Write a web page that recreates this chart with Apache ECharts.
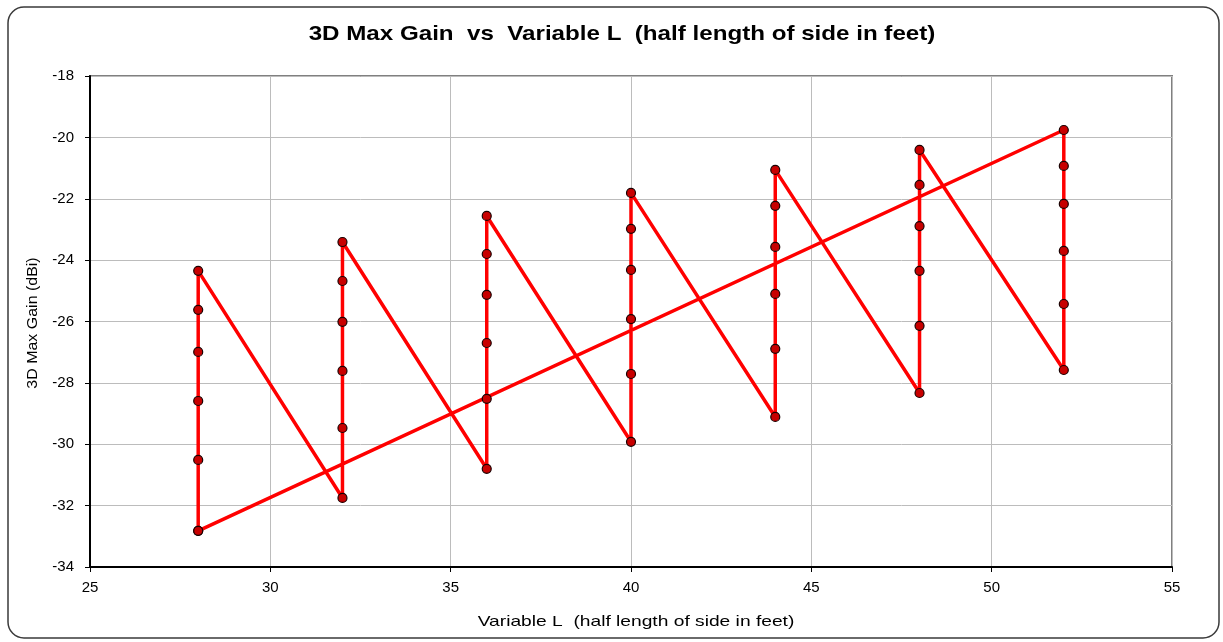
<!DOCTYPE html>
<html>
<head>
<meta charset="utf-8">
<script src="https://cdn.jsdelivr.net/npm/echarts@6/dist/echarts.min.js"></script>
<style>
  html, body { margin: 0; padding: 0; background: #fff; }
  #chart { width: 1223px; height: 642px; }
</style>
</head>
<body>
<div id="chart"></div>
<script>
// Half-side length L (feet) swept in steps of 4
var lengths = [28, 32, 36, 40, 44, 48, 52];

// 3D max gain (dBi) for each L, lowest to highest
var gain28 = [-32.82, -30.51, -28.59, -26.99, -25.62, -24.35];
var gain32 = [-31.75, -29.47, -27.61, -26.01, -24.68, -23.41];
var gain36 = [-30.80, -28.52, -26.70, -25.13, -23.80, -22.56];
var gain40 = [-29.92, -27.71, -25.92, -24.32, -22.98, -21.81];
var gain44 = [-29.11, -26.89, -25.10, -23.57, -22.23, -21.06];
var gain48 = [-28.33, -26.14, -24.35, -22.89, -21.55, -20.41];
var gain52 = [-27.58, -25.43, -23.70, -22.17, -20.93, -19.76];

var gains = [gain28, gain32, gain36, gain40, gain44, gain48, gain52];

// Axis ranges and tick steps
var xMin = 25, xMax = 55, xStep = 5;
var yMin = -34, yMax = -18, yStep = 2;

// Text
var titleText = '3D Max Gain  vs  Variable L  (half length of side in feet)';
var xName = 'Variable L  (half length of side in feet)';
var yName = '3D Max Gain (dBi)';

// Sweep order: each column bottom-to-top, then back to the first point
var points = [];
lengths.forEach(function (L, i) {
  gains[i].forEach(function (g) { points.push([L, g]); });
});
points.push(points[0].slice());

var font = 'Arial, "Liberation Sans", sans-serif';

var chart = echarts.init(document.getElementById('chart'), null, { renderer: 'canvas' });
chart.setOption({
  backgroundColor: '#ffffff',
  animation: false,
  graphic: [
    {
      type: 'rect',
      shape: { x: 8, y: 7, width: 1211, height: 631, r: 16 },
      style: { fill: 'none', stroke: '#3a3a3a', lineWidth: 1.5 },
      z: -1
    },
    {
      // chart title, slightly widened
      type: 'text',
      x: 622, y: 34, scaleX: 1.15,
      style: {
        text: titleText, x: 0, y: 0,
        font: 'bold 21px ' + font, fill: '#000',
        textAlign: 'center', textVerticalAlign: 'middle'
      }
    },
    {
      // x axis title
      type: 'text',
      x: 636, y: 622, scaleX: 1.28,
      style: {
        text: xName, x: 0, y: 0,
        font: '15px ' + font, fill: '#000',
        textAlign: 'center', textVerticalAlign: 'middle'
      }
    },
    {
      // y axis title, rotated
      type: 'text',
      x: 33, y: 323, rotation: Math.PI / 2, scaleX: 1.14,
      style: {
        text: yName, x: 0, y: 0,
        font: '14px ' + font, fill: '#000',
        textAlign: 'center', textVerticalAlign: 'middle'
      }
    }
  ],
  grid: {
    left: 90, right: 51, top: 76, bottom: 75,
    show: true, borderColor: '#808080', borderWidth: 2, backgroundColor: '#fff'
  },
  xAxis: {
    type: 'value',
    min: xMin, max: xMax, interval: xStep,
    axisLine: { show: true, onZero: false, lineStyle: { color: '#000', width: 2 } },
    axisTick: { show: true, length: 5, lineStyle: { color: '#000', width: 1 } },
    axisLabel: { fontFamily: font, fontSize: 15, color: '#000', margin: 13 },
    splitLine: { show: true, lineStyle: { color: '#bcbcbc', width: 1 } }
  },
  yAxis: {
    type: 'value',
    min: yMin, max: yMax, interval: yStep,
    axisLine: { show: true, onZero: false, lineStyle: { color: '#000', width: 2 } },
    axisTick: { show: true, length: 5, lineStyle: { color: '#000', width: 1 } },
    axisLabel: { fontFamily: font, fontSize: 15, color: '#000', margin: 16 },
    splitLine: { show: true, lineStyle: { color: '#bcbcbc', width: 1 } }
  },
  series: [{
    type: 'line',
    data: points,
    symbol: 'circle',
    symbolSize: 9,
    showAllSymbol: true,
    lineStyle: { color: '#ff0000', width: 3.5 },
    itemStyle: { color: '#c80000', borderColor: '#1a0000', borderWidth: 1.2 },
    z: 3
  }]
});
</script>
</body>
</html>
